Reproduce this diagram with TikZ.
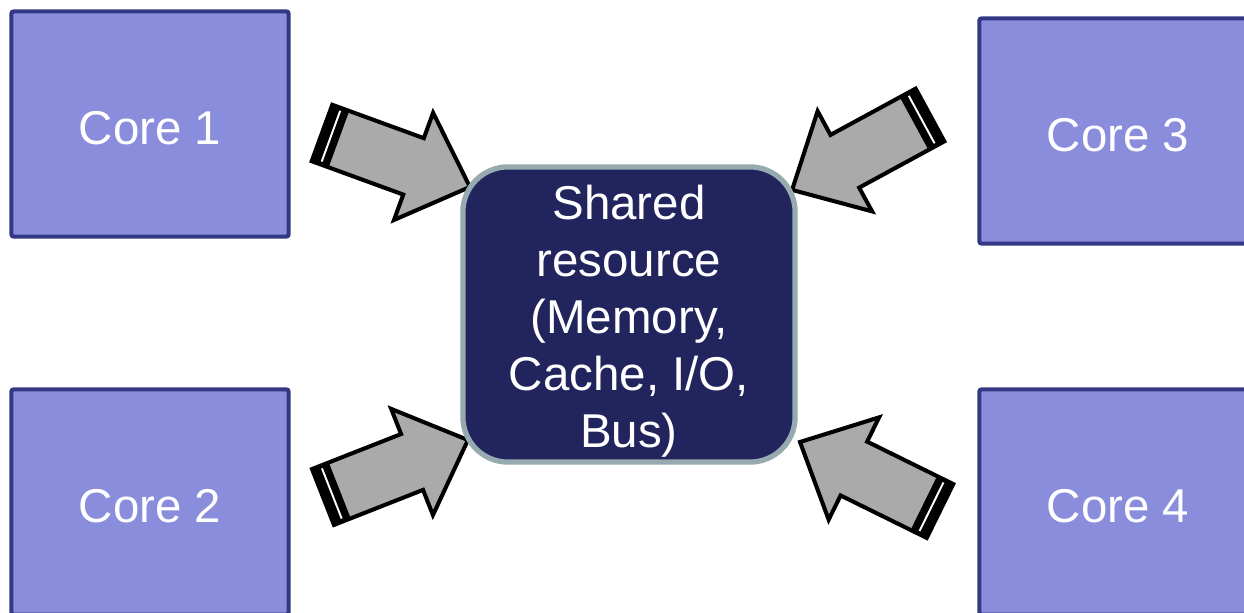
\documentclass[tikz,border=0pt]{standalone}
\usepackage{fontspec}
\setmainfont{Liberation Sans}
\usetikzlibrary{calc}

\definecolor{corefill}{RGB}{138,140,220}
\definecolor{coreedge}{RGB}{52,56,132}
\definecolor{sharedfill}{RGB}{34,36,94}
\definecolor{sharededge}{RGB}{150,170,175}
\definecolor{arrowgrey}{RGB}{170,170,170}

\tikzset{
  core/.style={draw=coreedge, fill=corefill, line width=1.15pt, rounded corners=0.6pt,
    minimum width=2.77cm, minimum height=2.25cm, inner sep=0pt,
    text height=11.4pt, text depth=0pt,
    text=white, font=\fontsize{13.5}{15}\selectfont},
  shared/.style={draw=sharededge, fill=sharedfill, line width=1.5pt, rounded corners=0.45cm,
    minimum width=3.32cm, minimum height=2.95cm, inner sep=0pt},
  sharedtext/.style={inner sep=0pt, align=center, text=white,
    font=\fontsize{13.5}{16.2}\selectfont},
  arrowbody/.style={fill=arrowgrey},
  arrowband/.style={fill=black},
  arrowgap/.style={draw=white, line width=0.55pt},
  arrowedge/.style={draw=black, line width=1.15pt, line join=miter},
}

% Striped block arrow from coordinate #1 (tail) to coordinate #2 (tip)
\newcommand\stripedarrow[2]{%
  \path let \p1=($(#2)-(#1)$) in
    \pgfextra{\pgfmathsetmacro\tmpang{atan2(\y1,\x1)}%
              \pgfmathsetmacro\tmplen{veclen(\x1,\y1)}%
              \xdef\arrang{\tmpang}\xdef\arrlen{\tmplen}};
  \begin{scope}[shift={(#1)}, rotate=\arrang]
    \path[arrowbody] (0,0.3cm) -- ({\arrlen pt-0.6cm},0.3cm) -- ({\arrlen pt-0.6cm},0.57cm)
      -- (\arrlen pt,0) -- ({\arrlen pt-0.6cm},-0.57cm) -- ({\arrlen pt-0.6cm},-0.3cm)
      -- (0,-0.3cm) -- cycle;
    \path[arrowband] (0,-0.3cm) rectangle (0.18cm,0.3cm);
    \draw[arrowgap] (0.095cm,-0.27cm) -- (0.095cm,0.27cm);
    \path[arrowedge] (0,0.3cm) -- ({\arrlen pt-0.6cm},0.3cm) -- ({\arrlen pt-0.6cm},0.57cm)
      -- (\arrlen pt,0) -- ({\arrlen pt-0.6cm},-0.57cm) -- ({\arrlen pt-0.6cm},-0.3cm)
      -- (0,-0.3cm) -- cycle;
  \end{scope}}

\begin{document}
\begin{tikzpicture}[x=0.01cm, y=-0.01cm]
  \useasboundingbox[fill=white] (0,0) rectangle (1244,613);

  % processor cores
  \node[core] (c1) at (150,124) {Core 1};
  \node[core] (c2) at (150,502) {Core 2};
  \node[core] (c3) at (1118,131) {Core 3};
  \node[core] (c4) at (1118,502) {Core 4};

  % arrow ends
  \coordinate (a1s) at (322,133);
  \coordinate (a1e) at (470,187);
  \coordinate (a2s) at (323,497);
  \coordinate (a2e) at (468,440);
  \coordinate (a3s) at (930,115);
  \coordinate (a3e) at (792,190);
  \coordinate (a4s) at (940,511);
  \coordinate (a4e) at (800,442);

  \stripedarrow{a1s}{a1e}
  \stripedarrow{a2s}{a2e}
  \stripedarrow{a3s}{a3e}
  \stripedarrow{a4s}{a4e}

  % shared resource drawn on top of the arrow tips
  \node[shared] (sh) at (629,314.5) {};
  \node[sharedtext] (shtext) at ([yshift=-0.065cm]sh.center)
    {Shared\\resource\\(Memory,\\Cache, I/O,\\Bus)};
\end{tikzpicture}
\end{document}
